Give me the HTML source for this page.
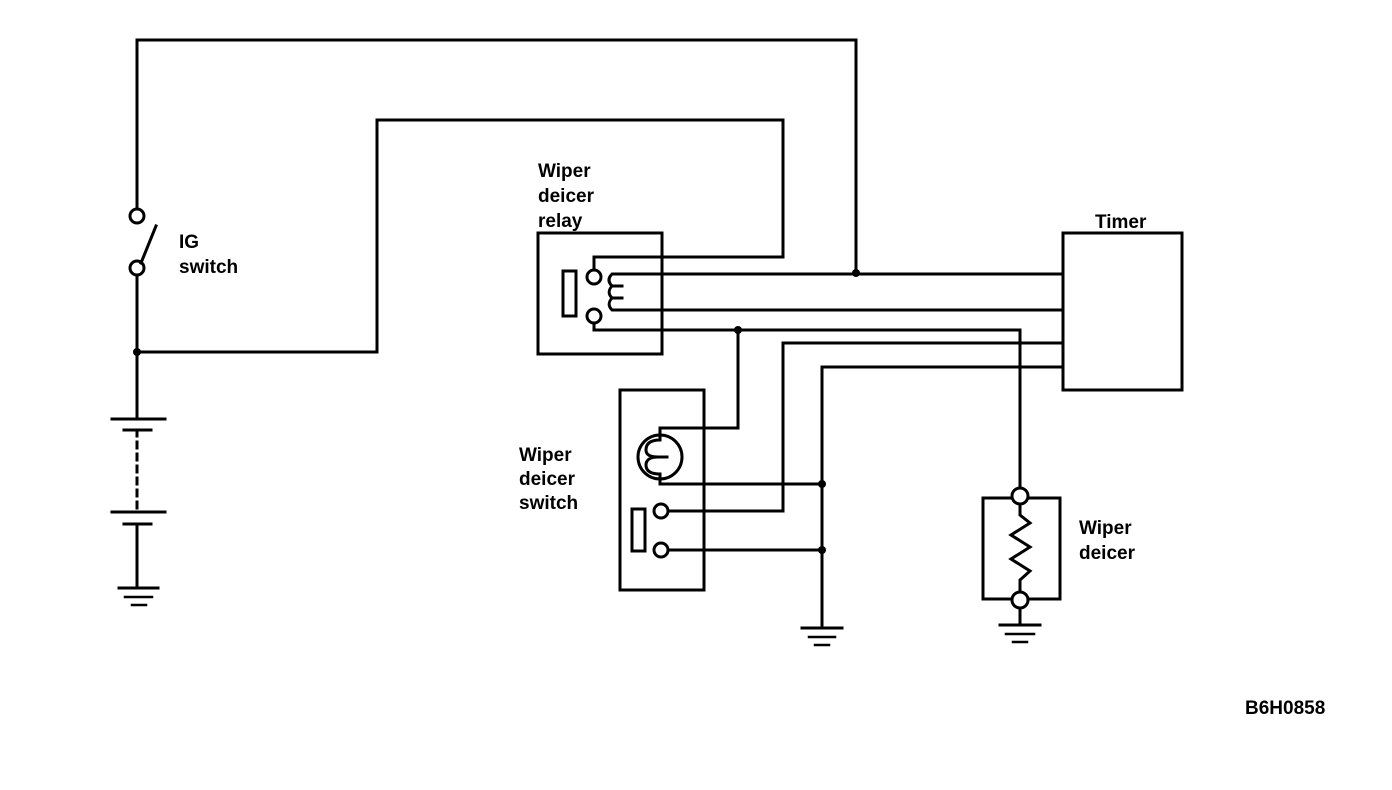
<!DOCTYPE html>
<html><head><meta charset="utf-8"><style>
html,body{margin:0;padding:0;background:#fff;}
svg{display:block}
text{font-family:"Liberation Sans",sans-serif;font-size:19px;fill:#000;font-weight:bold;}
</style></head><body>
<svg width="1392" height="790" viewBox="0 0 1392 790" xmlns="http://www.w3.org/2000/svg">
<g stroke="#000" stroke-width="3" fill="none" stroke-linecap="square">
<polyline points="137,209 137,40 856,40 856,273"/>
<circle cx="137" cy="216" r="7" fill="#fff"/>
<circle cx="137" cy="268" r="7" fill="#fff"/>
<line x1="141" y1="263" x2="156" y2="226"/>
<line x1="137" y1="275" x2="137" y2="419"/>
<polyline points="137,352 377,352 377,120 783,120 783,257 594,257 594,270"/>
<line x1="112" y1="419" x2="165" y2="419"/>
<line x1="124" y1="430" x2="151" y2="430"/>
<line x1="137" y1="430" x2="137" y2="512" stroke-dasharray="6,6"/>
<line x1="112" y1="512" x2="165" y2="512"/>
<line x1="124" y1="524" x2="151" y2="524"/>
<line x1="137" y1="524" x2="137" y2="588"/>
<line x1="119" y1="588" x2="158" y2="588"/>
<line x1="125" y1="597" x2="152" y2="597" stroke-width="2.5"/>
<line x1="132" y1="605" x2="146" y2="605" stroke-width="2.5"/>
<rect x="538" y="233" width="124" height="121"/>
<rect x="563" y="271" width="13" height="45"/>
<circle cx="594" cy="277" r="7" fill="#fff"/>
<circle cx="594" cy="316" r="7" fill="#fff"/>
<path d="M1063,274 L612,274 Q606,280 612,286 L622,286 M612,286 Q606,292 612,298 L622,298 M612,298 Q606,304 612,310 L1063,310"/>
<polyline points="594,323 594,330 1020,330 1020,488"/>
<rect x="1063" y="233" width="119" height="157"/>
<polyline points="1063,343 783,343 783,511 668,511"/>
<polyline points="1063,367 822,367 822,628"/>
<rect x="620" y="390" width="84" height="200"/>
<circle cx="660" cy="457" r="22"/>
<polyline points="660,435 660,428 738,428 738,330"/>
<polyline points="660,479 660,484 822,484"/>
<path d="M660,435 L660,440 Q646,440 646,450 Q646,457 658,457 L667,457 M658,457 Q646,457 646,465 Q646,474 660,474 L660,479"/>
<rect x="632" y="509" width="13" height="42"/>
<circle cx="661" cy="511" r="7" fill="#fff"/>
<circle cx="661" cy="550" r="7" fill="#fff"/>
<line x1="668" y1="550" x2="822" y2="550"/>
<line x1="802" y1="628" x2="842" y2="628"/>
<line x1="809" y1="637" x2="835" y2="637" stroke-width="2.5"/>
<line x1="815" y1="645" x2="829" y2="645" stroke-width="2.5"/>
<rect x="983" y="498" width="77" height="101"/>
<polyline points="1020,504 1020,515 1030,523 1011,535 1030,547 1011,559 1030,571 1020,580 1020,592"/>
<circle cx="1020" cy="496" r="8" fill="#fff"/>
<circle cx="1020" cy="600" r="8" fill="#fff"/>
<line x1="1020" y1="608" x2="1020" y2="625"/>
<line x1="1000" y1="625" x2="1040" y2="625"/>
<line x1="1006" y1="634" x2="1034" y2="634" stroke-width="2.5"/>
<line x1="1013" y1="642" x2="1027" y2="642" stroke-width="2.5"/>
</g>
<g fill="#000">
<circle cx="137" cy="352" r="4"/>
<circle cx="856" cy="273" r="4"/>
<circle cx="738" cy="330" r="4"/>
<circle cx="822" cy="484" r="4"/>
<circle cx="822" cy="550" r="4"/>
</g>
<text x="538" y="177">Wiper</text>
<text x="538" y="202">deicer</text>
<text x="538" y="227">relay</text>
<text x="1095" y="228">Timer</text>
<text x="179" y="248">IG</text>
<text x="179" y="273">switch</text>
<text x="519" y="461">Wiper</text>
<text x="519" y="485">deicer</text>
<text x="519" y="509">switch</text>
<text x="1079" y="534">Wiper</text>
<text x="1079" y="559">deicer</text>
<text x="1245" y="714">B6H0858</text>
</svg>
</body></html>
